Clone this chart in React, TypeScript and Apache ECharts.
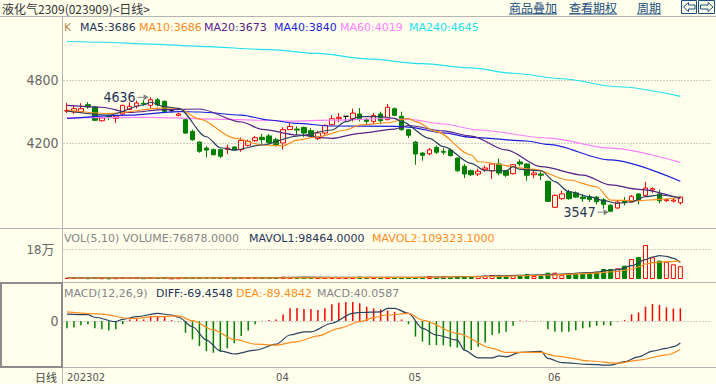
import React, { useEffect, useRef } from 'react';
import * as echarts from 'echarts';

// ---------------- data ----------------
// candle: [open, close, low, high]
const candles: number[][] = [
  [4506, 4510, 4487, 4582], [4497, 4528, 4480, 4560], [4497, 4528, 4487, 4580], [4566, 4544, 4528, 4590],
  [4544, 4418, 4410, 4550], [4414, 4440, 4408, 4452], [4460, 4450, 4420, 4470], [4437, 4458, 4395, 4468],
  [4478, 4560, 4470, 4565], [4520, 4550, 4518, 4590], [4552, 4582, 4530, 4605], [4580, 4572, 4555, 4610],
  [4560, 4613, 4530, 4636], [4612, 4565, 4550, 4630], [4598, 4503, 4495, 4605], [4510, 4510, 4490, 4520],
  [4465, 4478, 4455, 4490], [4424, 4297, 4290, 4430], [4313, 4234, 4225, 4330], [4212, 4124, 4110, 4215],
  [4155, 4136, 4067, 4172], [4140, 4092, 4085, 4150], [4140, 4077, 4060, 4150], [4142, 4155, 4099, 4187],
  [4165, 4136, 4130, 4170], [4140, 4228, 4120, 4255], [4181, 4219, 4170, 4235], [4225, 4253, 4215, 4270],
  [4257, 4234, 4180, 4290], [4270, 4205, 4200, 4290],
  [4234, 4187, 4170, 4250], [4203, 4329, 4140, 4352], [4330, 4360, 4330, 4390], [4335, 4325, 4280, 4360],
  [4350, 4297, 4260, 4360], [4320, 4266, 4250, 4345], [4245, 4298, 4230, 4320], [4297, 4370, 4282, 4380],
  [4376, 4433, 4370, 4465], [4433, 4446, 4400, 4487], [4456, 4456, 4408, 4456], [4433, 4487, 4408, 4528],
  [4478, 4433, 4408, 4535], [4424, 4408, 4380, 4440], [4408, 4465, 4380, 4487], [4478, 4414, 4380, 4500],
  [4424, 4541, 4418, 4572], [4528, 4465, 4460, 4540], [4456, 4329, 4320, 4500],
  [4329, 4276, 4250, 4335], [4212, 4098, 3997, 4220], [4108, 4086, 4035, 4117], [4101, 4139, 4086, 4155],
  [4162, 4115, 4099, 4180], [4124, 4115, 4092, 4155], [4136, 4083, 4075, 4150], [4060, 3940, 3930, 4065],
  [3982, 3909, 3870, 4004], [3940, 3902, 3890, 3950], [3909, 3935, 3890, 3960], [3950, 3966, 3930, 3990],
  [3940, 4004, 3865, 4010], [4004, 3918, 3897, 4055], [3940, 3897, 3880, 3945], [3912, 3997, 3905, 4003],
  [4023, 4004, 3982, 4048], [4004, 3897, 3845, 4010], [3902, 3918, 3870, 3950], [3909, 3897, 3850, 3935],
  [3840, 3650, 3645, 3845], [3593, 3707, 3585, 3715], [3675, 3720, 3665, 3750], [3738, 3675, 3665, 3760],
  [3730, 3690, 3680, 3745], [3690, 3675, 3645, 3720], [3690, 3668, 3645, 3715], [3690, 3645, 3620, 3700],
  [3664, 3621, 3580, 3680], [3613, 3556, 3547, 3620], [3587, 3643, 3578, 3660], [3652, 3636, 3612, 3690],
  [3643, 3698, 3640, 3710], [3720, 3665, 3620, 3725], [3707, 3776, 3697, 3833], [3757, 3770, 3730, 3783],
  [3720, 3656, 3630, 3760], [3656, 3665, 3645, 3675], [3652, 3662, 3640, 3680], [3636, 3690, 3620, 3695],
];

const volumes = [
  7000, 6000, 6000, 5000, 9000, 5000, 4000, 5000, 8000, 6000, 6000, 5000, 7000, 6000, 9000, 4000,
  5000, 10000, 9000, 9000, 8000, 6000, 7000, 6000, 5000, 8000, 6000, 6000, 7000, 8000,
  8000, 14000, 10000, 8000, 10000, 8000, 9000, 10000, 12000, 9000, 8000, 10000, 14000, 8000, 9000, 8000,
  10000, 9000, 12000, 10000, 10000, 9000, 18000, 10000, 10000, 10000, 18000, 18000, 14000, 18000, 20000,
  24000, 24000, 20000, 24000, 18000, 30000, 18000, 18000, 38000, 38000, 24000, 34000, 34000, 34000, 42000,
  40000, 60000, 60000, 64000, 80000, 120000, 132000, 204000, 130000, 110000, 104000, 88000, 76878,
];

const macdHist = [
  -23, -20, -13, -10, -23, -26, -30, -26, -10, 5, 6, 5, 16, 16, 13, 3, -2, -37, -58, -79, -95, -100,
  -97, -86, -70, -47, -30, -10, 1, 3, 5, 21, 40, 41, 38, 38, 35, 40, 53, 58, 60, 60,
  56, 45, 40, 37, 33, 29, 5, -10, -49, -65, -76, -76, -76, -81, -84, -91, -91, -81, -68, -44, -39, -34,
  -15, 2, 1, -1, 1, -26, -34, -34, -34, -29, -23, -20, -15, -13, -15, -1, 3, 21, 27, 45, 54, 51, 43, 39, 40,
];

// moving-average lines: [candle index, value]
const ma5 = [[0, 4506], [6, 4468], [11, 4563], [12, 4589], [14, 4547], [16, 4532], [20, 4262], [22, 4158], [24, 4136], [28, 4184], [33, 4269], [38, 4326], [40, 4405], [42, 4452], [45, 4452], [47, 4437], [48, 4405], [52, 4247], [54, 4168], [58, 4010], [60, 3940], [63, 3940], [64, 3978], [65, 3953], [68, 3940], [70, 3836], [72, 3741], [75, 3694], [77, 3656], [79, 3631], [81, 3646], [83, 3694], [85, 3710], [88, 3686]];
const ma10 = [[0, 4516], [6, 4482], [14, 4535], [16, 4530], [19, 4430], [24, 4250], [28, 4184], [31, 4177], [33, 4231], [36, 4262], [40, 4326], [42, 4373], [46, 4395], [49, 4437], [50, 4405], [53, 4310], [58, 4089], [59, 4025], [67, 3953], [72, 3852], [76, 3788], [78, 3662], [82, 3656], [85, 3669], [88, 3686]];
const ma20 = [[0, 4559], [5, 4542], [9, 4492], [14, 4520], [19, 4525], [25, 4402], [28, 4333], [33, 4279], [38, 4247], [42, 4295], [47, 4335], [49, 4369], [54, 4317], [58, 4269], [63, 4137], [68, 3978], [74, 3899], [78, 3805], [82, 3764], [88, 3675]];
const ma40 = [[0, 4435], [9, 4468], [16, 4501], [19, 4497], [25, 4468], [29, 4421], [33, 4388], [38, 4364], [47, 4361], [49, 4354], [54, 4298], [58, 4257], [66, 4222], [69, 4189], [78, 4042], [88, 3840]];
const ma60 = [[0, 4443], [12, 4445], [23, 4426], [32, 4411], [38, 4419], [46, 4435], [49, 4426], [54, 4383], [59, 4326], [69, 4250], [78, 4155], [88, 4019]];
const ma240 = [[0, 5165], [5, 5158], [12, 5141], [19, 5119], [29, 5088], [36, 5052], [43, 5000], [51, 4955], [58, 4915], [64, 4864], [71, 4812], [79, 4736], [88, 4645]];

const mavol1 = [[0, 7000], [10, 6500], [20, 7500], [30, 8000], [34, 11000], [40, 9500], [50, 10500], [58, 15000], [65, 22000], [70, 28000], [75, 38000], [79, 56000], [81, 80000], [83, 116000], [84, 132000], [85, 140000], [86, 136000], [87, 124000], [88, 98464]];
const mavol2 = [[0, 6000], [30, 7000], [50, 10000], [60, 15000], [70, 24000], [75, 34000], [79, 45000], [81, 60000], [82, 72000], [83, 90000], [84, 98000], [86, 104000], [88, 109323]];

const diffLine = [[0, 22], [3, 20], [4, 12], [7, -2], [8, 5], [10, 14], [13, 24], [15, 19], [16, 12], [18, -18], [20, -60], [22, -94], [24, -104], [27, -92], [30, -73], [32, -44], [34, -34], [35, -34], [38, -7], [41, 24], [42, 27], [45, 29], [46, 40], [47, 40], [49, 24], [51, -23], [53, -44], [56, -60], [57, -92], [59, -116], [61, -116], [62, -110], [63, -113], [65, -99], [68, -96], [69, -118], [71, -131], [75, -137], [78, -139], [80, -128], [82, -113], [84, -95], [86, -86], [87, -81], [88, -69.45]];
const deaLine = [[0, 29], [5, 22], [9, 8], [13, 14], [16, 16], [18, 1], [21, -28], [24, -58], [27, -73], [30, -76], [33, -65], [36, -47], [39, -23], [42, -2], [44, 11], [46, 19], [49, 24], [51, 3], [56, -39], [61, -86], [63, -99], [68, -99], [70, -110], [75, -126], [79, -133], [82, -123], [86, -107], [88, -89.48]];

const monthTickIndex = [0, 30, 49, 69];
const monthTickText = ['202302', '04', '05', '06'];
const priceTicks = [4800, 4200];
const volTicks = [180000];
const volTickText = ['18万'];
const macdTicks = [0];

const mainLegend = [
  { text: 'K', color: '#b8864b', x: 64 },
  { text: 'MA5:3686', color: '#1f3358', x: 80 },
  { text: 'MA10:3686', color: '#ff8c1a', x: 139 },
  { text: 'MA20:3673', color: '#55208a', x: 204 },
  { text: 'MA40:3840', color: '#1c1ce0', x: 274 },
  { text: 'MA60:4019', color: '#ff7eff', x: 340 },
  { text: 'MA240:4645', color: '#22dff0', x: 409 },
];
const volLegend = [
  { text: 'VOL(5,10) VOLUME:76878.0000', color: '#858585', x: 64 },
  { text: 'MAVOL1:98464.0000', color: '#1f3358', x: 249 },
  { text: 'MAVOL2:109323.1000', color: '#ff8c1a', x: 372 },
];
const macdLegend = [
  { text: 'MACD(12,26,9)', color: '#858585', x: 64 },
  { text: 'DIFF:-69.4548', color: '#1f3358', x: 156 },
  { text: 'DEA:-89.4842', color: '#ff8c1a', x: 236 },
  { text: 'MACD:40.0587', color: '#858585', x: 317 },
];

// ---------------- styling ----------------
const BG = '#FFFFEC';
const RED = '#FF0000';
const GREEN = '#008000';
const FONT_NUM = '"DejaVu Sans", Verdana, sans-serif';
const FONT_AXIS = '"Liberation Sans Narrow", "DejaVu Sans Condensed", "Liberation Sans", "Noto Sans CJK SC", sans-serif';
const FONT_CJK = '"Noto Sans CJK SC", "DejaVu Sans", sans-serif';
const GRID_LEFT = 63.5;
const SLOT = 6.97;
const N_SLOTS = 93;
const GRID_W = SLOT * N_SLOTS;

const categories = Array.from({ length: N_SLOTS }, (_, i) => 'p' + i);

function txt(x: number, y: number, text: string, fill: string, font: string, align = 'left') {
  return {
    type: 'text', x, y, silent: true,
    style: { text, fill, font, textAlign: align, align, textVerticalAlign: 'middle', verticalAlign: 'middle' },
  };
}
function hline(y: number, x1: number, x2: number, stroke: string, w = 1) {
  return { type: 'line', silent: true, shape: { x1, y1: y, x2, y2: y }, style: { stroke, lineWidth: w } };
}

const gridLineStyle = { type: [1, 2] as any, color: '#9a9a9a', width: 1 };

function maSeries(name: string, data: number[][], color: string, xi = 0, yi = 0) {
  return {
    name, type: 'line', xAxisIndex: xi, yAxisIndex: yi, data, showSymbol: false,
    smooth: 0.3, smoothMonotone: 'x', silent: true,
    lineStyle: { color, width: 1.2 }, z: 5,
  };
}

export default function App() {
  const ref = useRef<HTMLDivElement>(null);

  useEffect(() => {
    if (!ref.current) return;
    const chart = echarts.init(ref.current, undefined, { renderer: 'svg' });

    const xAxisBase = (gridIndex: number) => ({
      type: 'category', gridIndex, data: categories, boundaryGap: true,
      axisLine: { show: false }, axisTick: { show: false }, axisLabel: { show: false }, splitLine: { show: false },
    });
    const yAxisBase = (gridIndex: number, min: number, max: number) => ({
      type: 'value', gridIndex, min, max, scale: true,
      axisLine: { show: false }, axisTick: { show: false }, axisLabel: { show: false }, splitLine: { show: false },
    });

    const volData = volumes.map((v, i) => {
      const up = candles[i][1] >= candles[i][0];
      return { value: v, itemStyle: up ? { color: BG, borderColor: RED, borderWidth: 1 } : { color: GREEN, borderColor: GREEN, borderWidth: 1 } };
    });
    const macdData = macdHist.map((v) => ({ value: v, itemStyle: { color: v >= 0 ? RED : GREEN } }));

    const option: any = {
      animation: false,
      backgroundColor: BG,
      grid: [
        { left: GRID_LEFT, top: 18, width: GRID_W, height: 210 },
        { left: GRID_LEFT, top: 229, width: GRID_W, height: 50 },
        { left: GRID_LEFT, top: 283, width: GRID_W, height: 84 },
      ],
      xAxis: [
        xAxisBase(0),
        xAxisBase(1),
        {
          ...xAxisBase(2),
          axisLabel: {
            show: true,
            interval: (i: number) => monthTickIndex.includes(i),
            formatter: (_v: string, i: number) => monthTickText[monthTickIndex.indexOf(i)] ?? '',
            align: 'left', color: '#555555', fontSize: 10, fontFamily: FONT_NUM, margin: 5,
          },
        },
      ],
      yAxis: [
        yAxisBase(0, 3397, 5388),
        yAxisBase(1, 0, 300000),
        yAxisBase(2, -145, 120),
      ],
      series: [
        {
          name: 'K', type: 'candlestick', xAxisIndex: 0, yAxisIndex: 0, data: candles, barWidth: 5, silent: true,
          itemStyle: { color: BG, color0: GREEN, borderColor: RED, borderColor0: GREEN, borderColorDoji: '#000000', borderWidth: 1 },
          markLine: {
            silent: true, symbol: ['none', 'none'], animation: false,
            lineStyle: gridLineStyle,
            label: { position: 'start', color: '#666666', fontSize: 14, fontFamily: FONT_AXIS, distance: 5 },
            data: priceTicks.map((v) => ({ yAxis: v, label: { formatter: String(v) } })),
          },
          z: 3,
        },
        maSeries('MA240', ma240, '#22dff0'),
        maSeries('MA60', ma60, '#ff7eff'),
        maSeries('MA40', ma40, '#1c1ce0'),
        maSeries('MA20', ma20, '#55208a'),
        maSeries('MA10', ma10, '#ff8c1a'),
        maSeries('MA5', ma5, '#2a4060'),
        {
          name: 'VOL', type: 'bar', xAxisIndex: 1, yAxisIndex: 1, data: volData, barWidth: 5, silent: true,
          markLine: {
            silent: true, symbol: ['none', 'none'], animation: false,
            lineStyle: gridLineStyle,
            label: { position: 'start', color: '#666666', fontSize: 13, fontFamily: FONT_AXIS, distance: 9 },
            data: volTicks.map((v, i) => ({ yAxis: v, label: { formatter: volTickText[i] } })),
          },
        },
        maSeries('MAVOL1', mavol1, '#2a4060', 1, 1),
        maSeries('MAVOL2', mavol2, '#ff8c1a', 1, 1),
        {
          name: 'MACD', type: 'bar', xAxisIndex: 2, yAxisIndex: 2, data: macdData, barWidth: 1.5, silent: true,
          markLine: {
            silent: true, symbol: ['none', 'none'], animation: false,
            lineStyle: gridLineStyle,
            label: { position: 'start', color: '#666666', fontSize: 14, fontFamily: FONT_AXIS, distance: 5 },
            data: macdTicks.map((v) => ({ yAxis: v, label: { formatter: String(v) } })),
          },
        },
        maSeries('DIFF', diffLine, '#2a4060', 2, 2),
        maSeries('DEA', deaLine, '#ff8c1a', 2, 2),
      ],
    };

    chart.setOption(option);

    // high / low annotations, positioned through the chart's own scales
    let hiIdx = 0, loIdx = 0;
    candles.forEach((c, i) => {
      if (c[3] > candles[hiIdx][3]) hiIdx = i;
      if (c[2] < candles[loIdx][2]) loIdx = i;
    });
    const hiPt = chart.convertToPixel({ xAxisIndex: 0, yAxisIndex: 0 }, [hiIdx, candles[hiIdx][3]]) as number[];
    const loPt = chart.convertToPixel({ xAxisIndex: 0, yAxisIndex: 0 }, [loIdx, candles[loIdx][2]]) as number[];
    const annot = (p: number[], label: string) => {
      const [cx, cy] = p;
      return [
        txt(cx - 15, cy, label, '#1f3358', '14px ' + FONT_AXIS, 'right'),
        hline(cy, cx - 13, cx - 5, '#808080', 1),
        { type: 'polygon', silent: true, shape: { points: [[cx - 2, cy], [cx - 7, cy - 3], [cx - 7, cy + 3]] }, style: { fill: '#808080' } },
      ];
    };

    const lineColor = '#b4b4b4';
    const linkColor = '#1b4d7e';
    const arrowStyle = { fill: 'none', stroke: linkColor, lineWidth: 1 };
    const elements: any[] = [
      // frame lines
      hline(16.5, 0, 716, lineColor),
      hline(228.5, 0, 716, lineColor),
      hline(282.5, 0, 716, lineColor),
      hline(367.5, 0, 716, lineColor),
      { type: 'line', silent: true, shape: { x1: 62.5, y1: 17, x2: 62.5, y2: 384 }, style: { stroke: lineColor, lineWidth: 1 } },
      { type: 'rect', silent: true, shape: { x: 1, y: 283, width: 61, height: 84 }, style: { fill: 'none', stroke: '#8c8c8c', lineWidth: 2 } },
      // title bar
      txt(2, 8.5, '液化气2309(023909)<日线>', '#333333', '12px ' + FONT_CJK),
      txt(509, 7.5, '商品叠加', linkColor, '12px ' + FONT_CJK),
      hline(14, 509, 557, linkColor),
      txt(569, 7.5, '查看期权', linkColor, '12px ' + FONT_CJK),
      hline(14, 569, 617, linkColor),
      txt(637, 7.5, '周期', linkColor, '12px ' + FONT_CJK),
      hline(14, 637, 661, linkColor),
      { type: 'rect', silent: true, shape: { x: 681.5, y: 0.5, width: 15, height: 13 }, style: { fill: 'none', stroke: linkColor, lineWidth: 1 } },
      { type: 'rect', silent: true, shape: { x: 698.5, y: 0.5, width: 16, height: 13 }, style: { fill: 'none', stroke: linkColor, lineWidth: 1 } },
      { type: 'polygon', silent: true, shape: { points: [[683.5, 7], [688.5, 2.5], [688.5, 5], [695, 5], [695, 9], [688.5, 9], [688.5, 11.5]] }, style: arrowStyle },
      { type: 'polygon', silent: true, shape: { points: [[713, 7], [708, 2.5], [708, 5], [700.5, 5], [700.5, 9], [708, 9], [708, 11.5]] }, style: arrowStyle },
      // bottom-left label
      txt(57, 376.5, '日线', '#444444', '11px ' + FONT_CJK, 'right'),
      ...mainLegend.map((l) => txt(l.x, 27, l.text, l.color, '11px ' + FONT_NUM)),
      ...volLegend.map((l) => txt(l.x, 238, l.text, l.color, '11px ' + FONT_NUM)),
      ...macdLegend.map((l) => txt(l.x, 293, l.text, l.color, '11px ' + FONT_NUM)),
      ...annot(hiPt, String(candles[hiIdx][3])),
      ...annot(loPt, String(candles[loIdx][2])),
    ];
    chart.setOption({ graphic: { elements } });

    return () => chart.dispose();
  }, []);

  return <div ref={ref} style={{ position: 'fixed', left: 0, top: 0, width: 716, height: 384 }} />;
}
